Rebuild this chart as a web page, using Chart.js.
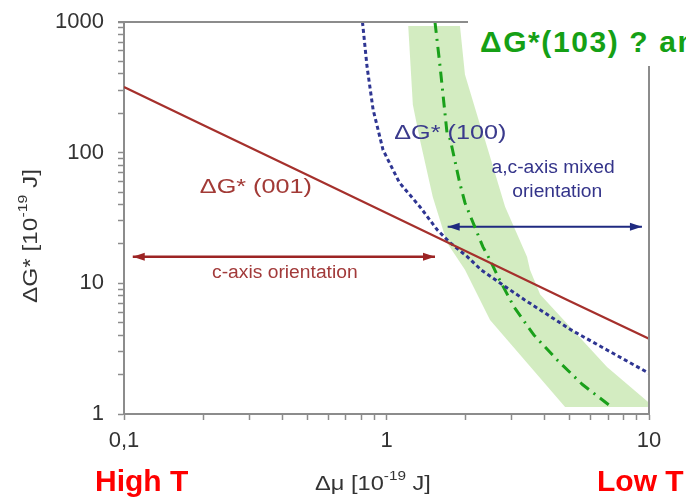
<!DOCTYPE html>
<html><head><meta charset="utf-8">
<script src="https://cdn.jsdelivr.net/npm/chart.js@4"></script>
<style>
html,body{margin:0;padding:0;width:686px;height:498px;overflow:hidden;background:#fff;}
#wrap{position:relative;width:686px;height:498px;overflow:hidden;}
canvas{position:absolute;left:0;top:0;}
.lbl{position:absolute;white-space:nowrap;font-family:"Liberation Sans",Arial,sans-serif;font-weight:bold;font-size:30px;line-height:30px;}
</style></head><body>
<div id="wrap">
<canvas id="c" width="686" height="498"></canvas>
<div style="position:absolute;left:468px;top:0;width:218px;height:66px;background:#fff;"></div>
<div class="lbl" style="left:480px;top:27px;color:#15a015;letter-spacing:1.6px">ΔG*(103) ? and</div>
<div class="lbl" style="left:95px;top:466px;color:#ff0000">High T</div>
<div class="lbl" style="left:597px;top:466px;color:#ff0000">Low T</div>
</div>
<script>
// ---- data ----
const xTickValues = [0.1,0.2,0.3,0.4,0.5,0.6,0.7,0.8,0.9,1,2,3,4,5,6,7,8,9,10];
const xMajorTicks = [0.1,1,10];
const xTickLabels = ['0,1','1','10'];
const yTickValues = [1,2,3,4,5,6,7,8,9,10,20,30,40,50,60,70,80,90,100,200,300,400,500,600,700,800,900,1000];
const yMajorTicks = [1,10,100,1000];
const yTickLabels = ['1','10','100','1000'];

// ΔG*(001)
const g001X = [0.1,0.2,0.5,1,2,5,10];
const g001Y = [318,163,67.5,34.6,17.7,7.3,3.77];
// ΔG*(100)
const g100X = [0.81,0.843,0.889,0.97,1.12,1.34,1.56,1.75,2.03,2.3,3.35,5.05,6.92,10];
const g100Y = [1000,456,214,105,59,38.6,25.7,20.4,16.0,12.6,7.5,4.4,3.09,2.05];
// ΔG*(103)
const g103X = [1.53,1.60,1.70,1.75,1.90,1.99,2.33,2.48,2.66,3.06,3.64,4.47,5.58,7.05];
const g103Y = [1000,456,142,126,58.9,41.4,19.0,15.1,11.2,6.6,4.03,2.59,1.68,1.17];
// uncertainty band around ΔG*(103): left edge downwards, then right edge upwards
const bandX = [1.21,1.26,1.34,1.50,1.70,1.99,2.48,4.79,9.9,10,6.92,3.85,3.52,3.43,2.83,2.37,2.27,1.99,1.905,1.21];
const bandY = [930,233,126,46,20.4,12.7,5.25,1.13,1.13,1.22,2.29,8.2,12.7,16.0,38.5,126,164,396,930,930];
// range arrows
const cAxisArrowX = [0.108,1.53];
const cAxisArrowY = [16,16];
const mixedArrowX = [1.71,9.4];
const mixedArrowY = [27.1,27.1];

const pts = (xs,ys)=>xs.map((x,i)=>({x:x,y:ys[i]}));

// label anchors (data coordinates)
const notes = [
  {text:'ΔG* (001)', x:0.318, y:54, color:'#a23a36', size:21, stretch:1.2},
  {text:'ΔG* (100)', x:1.75, y:142, color:'#3a3a8c', size:21, stretch:1.2},
  {text:'a,c-axis mixed', x:4.31, y:76.7, color:'#34348a', size:18, stretch:1.07},
  {text:'orientation', x:4.47, y:50.2, color:'#34348a', size:18, stretch:1.07},
  {text:'c-axis orientation', x:0.41, y:12.0, color:'#a23a3a', size:18, stretch:1.07}
];
const FONT = '"Liberation Sans", Arial, sans-serif';
const AXC = '#8c8c8c';

function arrowHead(ctx, tip, from, color){
  const ang = Math.atan2(tip.y-from.y, tip.x-from.x);
  const L = 12, W = 4;
  ctx.save();
  ctx.translate(tip.x, tip.y); ctx.rotate(ang);
  ctx.beginPath(); ctx.moveTo(0,0); ctx.lineTo(-L,-W); ctx.lineTo(-L,W); ctx.closePath();
  ctx.fillStyle = color; ctx.fill();
  ctx.restore();
}
function supText(ctx, parts, stretch){
  // parts: [text, sup, text] drawn centred at the current origin
  ctx.save();
  ctx.scale(stretch, 1);
  ctx.font = '20px '+FONT;
  const w0 = ctx.measureText(parts[0]).width, w2 = ctx.measureText(parts[2]).width;
  ctx.font = '13px '+FONT;
  const w1 = ctx.measureText(parts[1]).width;
  let cx = -(w0+w1+w2)/2;
  ctx.textBaseline = 'middle'; ctx.textAlign = 'left';
  ctx.font = '20px '+FONT; ctx.fillText(parts[0], cx, 0); cx += w0;
  ctx.font = '13px '+FONT; ctx.fillText(parts[1], cx, -8); cx += w1;
  ctx.font = '20px '+FONT; ctx.fillText(parts[2], cx, 0);
  ctx.restore();
}

const decor = {
  id:'decor',
  afterDatasetsDraw(chart){
    const ctx = chart.ctx, xs = chart.scales.x, ys = chart.scales.y;
    chart.data.datasets.forEach((ds,i)=>{
      if(!ds.arrow) return;
      const d = chart.getDatasetMeta(i).data;
      const a = d[0], b = d[d.length-1];
      arrowHead(ctx, {x:a.x,y:a.y}, {x:b.x,y:b.y}, ds.borderColor);
      arrowHead(ctx, {x:b.x,y:b.y}, {x:a.x,y:a.y}, ds.borderColor);
    });
    notes.forEach(n=>{
      ctx.save();
      ctx.translate(xs.getPixelForValue(n.x), ys.getPixelForValue(n.y));
      ctx.scale(n.stretch, 1);
      ctx.font = n.size+'px '+FONT;
      ctx.fillStyle = n.color; ctx.textAlign='center'; ctx.textBaseline='middle';
      ctx.fillText(n.text, 0, 0);
      ctx.restore();
    });
  },
  afterDraw(chart){
    const ctx = chart.ctx, a = chart.chartArea;
    ctx.save();
    ctx.strokeStyle = AXC; ctx.lineWidth = 2;
    ctx.beginPath();
    ctx.moveTo(a.left-6, a.top); ctx.lineTo(a.right, a.top); ctx.lineTo(a.right, a.bottom);
    ctx.stroke();
    ctx.fillStyle = '#333';
    ctx.save();
    ctx.translate(373, 484);
    supText(ctx, ['Δμ [10','-19',' J]'], 1.18);
    ctx.restore();
    ctx.translate(31, 236); ctx.rotate(-Math.PI/2);
    supText(ctx, ['ΔG* [10','-19',' J]'], 1.22);
    ctx.restore();
  }
};

new Chart(document.getElementById('c'), {
  type:'scatter',
  data:{datasets:[
    {data:pts(g001X,g001Y), showLine:true, borderColor:'#a5302c', borderWidth:2.2, pointRadius:0, order:1},
    {data:pts(g100X,g100Y), showLine:true, borderColor:'#2e3592', borderWidth:3, borderDash:[4,3], pointRadius:0, order:1},
    {data:pts(g103X,g103Y), showLine:true, borderColor:'#1aa01a', borderWidth:3, borderDash:[11,6,2,6], pointRadius:0, order:1},
    {data:pts(cAxisArrowX,cAxisArrowY), showLine:true, arrow:true, borderColor:'#9c2424', borderWidth:2.5, pointRadius:0, order:1},
    {data:pts(mixedArrowX,mixedArrowY), showLine:true, arrow:true, borderColor:'#1f2a80', borderWidth:2, pointRadius:0, order:1},
    {data:pts(bandX,bandY), showLine:true, fill:'shape', backgroundColor:'rgba(196,229,172,0.75)', borderColor:'rgba(0,0,0,0)', borderWidth:0, pointRadius:0, order:10}
  ]},
  options:{
    responsive:false, animation:false, events:[],
    layout:{padding:{left:0, top:22, right:37, bottom:0}},
    plugins:{legend:{display:false}, tooltip:{enabled:false}},
    scales:{
      x:{type:'logarithmic', min:0.1, max:10, position:'bottom',
        afterFit(s){ s.height = 84; s.paddingLeft = 0; s.paddingRight = 0; },
        afterBuildTicks(s){ s.ticks = xTickValues.map(v=>({value:v})); },
        ticks:{autoSkip:false, maxRotation:0, minRotation:0, padding:8, color:'#333', font:{size:22, family:FONT},
          callback(v){ const i = xMajorTicks.indexOf(v); return i<0 ? '' : xTickLabels[i]; }},
        grid:{drawOnChartArea:false, tickLength:6, tickColor:AXC, tickWidth:1.5},
        border:{color:AXC, width:2}},
      y:{type:'logarithmic', min:1, max:1000, position:'left',
        afterFit(s){ s.width = 124; s.paddingTop = 0; s.paddingBottom = 0; },
        afterBuildTicks(s){ s.ticks = yTickValues.map(v=>({value:v})); },
        ticks:{autoSkip:false, padding:14, color:'#333', font:{size:22, family:FONT},
          callback(v){ const i = yMajorTicks.indexOf(v); return i<0 ? '' : yTickLabels[i]; }},
        grid:{drawOnChartArea:false, tickLength:6, tickColor:AXC, tickWidth:1.5},
        border:{color:AXC, width:2}}
    }
  },
  plugins:[decor]
});
</script>
</body></html>
